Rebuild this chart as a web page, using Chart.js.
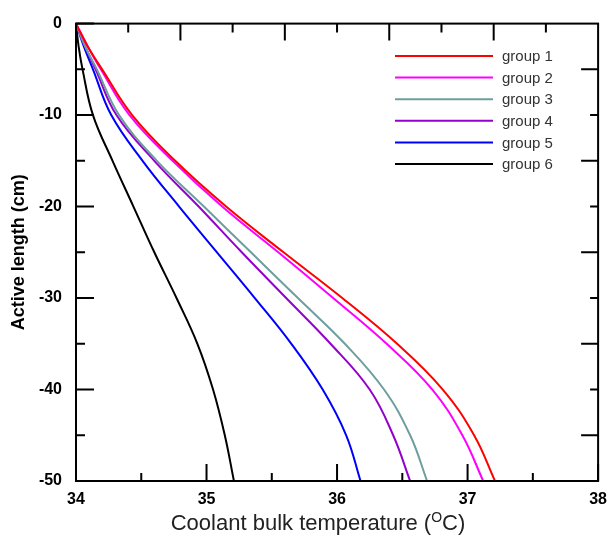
<!DOCTYPE html>
<html>
<head>
<meta charset="utf-8">
<script src="https://cdn.jsdelivr.net/npm/chart.js@4.4.1/dist/chart.umd.min.js"></script>
<style>
  html, body { margin: 0; padding: 0; background: #fff; }
  #wrap { width: 616px; height: 536px; }
</style>
</head>
<body>
<div id="wrap"><canvas id="chart" width="616" height="536"></canvas></div>
<script>
// depth along the active length (cm), shared by every group
const depths = [0, -2.5, -5, -10, -15, -20, -25, -30, -35, -40, -45, -50];

// coolant bulk temperature (°C) at each depth
const group1 = [34, 34.09, 34.20, 34.43, 34.76, 35.15, 35.59, 36.04, 36.46, 36.81, 37.05, 37.21];
const group2 = [34, 34.09, 34.19, 34.41, 34.74, 35.12, 35.55, 35.97, 36.38, 36.73, 36.96, 37.12];
const group3 = [34, 34.07, 34.16, 34.33, 34.62, 34.98, 35.34, 35.70, 36.06, 36.36, 36.56, 36.69];
const group4 = [34, 34.07, 34.15, 34.31, 34.60, 34.94, 35.27, 35.61, 35.95, 36.25, 36.43, 36.56];
const group5 = [34, 34.06, 34.13, 34.27, 34.51, 34.79, 35.08, 35.37, 35.65, 35.89, 36.07, 36.18];
const group6 = [34, 34.02, 34.05, 34.13, 34.28, 34.44, 34.60, 34.77, 34.93, 35.05, 35.14, 35.21];

const seriesNames = ['group 1', 'group 2', 'group 3', 'group 4', 'group 5', 'group 6'];
const seriesValues = [group1, group2, group3, group4, group5, group6];
const seriesColors = ['#ff0000', '#ff00ff', '#6f9e9e', '#9400cc', '#0000ff', '#000000'];

const xTicks = [34, 35, 36, 37, 38];
const yTicks = [0, -10, -20, -30, -40, -50];

const FONT = '"Liberation Sans", Arial, sans-serif';

const datasets = seriesNames.map((name, i) => ({
    label: name,
    data: seriesValues[i].map((t, k) => ({ x: t, y: depths[k] })),
    borderColor: seriesColors[i],
    backgroundColor: seriesColors[i],
    borderWidth: 2,
    pointRadius: 0,
    showLine: true,
    tension: 0.4,
    fill: false
}));

// box + inward ticks on all four sides
const frame = {
    id: 'frame',
    afterDraw(chart) {
        const { ctx, chartArea: a, scales: { x, y } } = chart;
        ctx.save();
        ctx.strokeStyle = '#000';
        ctx.lineWidth = 2;
        ctx.beginPath();
        // bottom: every 0.5, long on whole degrees
        for (let k = 0; k <= 8; k++) {
            const px = x.getPixelForValue(34 + k * 0.5);
            const len = k % 2 === 0 ? 17 : 8;
            ctx.moveTo(px, a.bottom); ctx.lineTo(px, a.bottom - len);
        }
        // top: every 0.4
        for (let k = 1; k <= 9; k++) {
            const px = x.getPixelForValue(34 + k * 0.4);
            const len = k % 2 === 0 ? 17 : 9;
            ctx.moveTo(px, a.top); ctx.lineTo(px, a.top + len);
        }
        // left: every 5, long on tens
        for (let k = 0; k <= 10; k++) {
            const py = y.getPixelForValue(-k * 5);
            const len = k % 2 === 0 ? 18 : 9;
            ctx.moveTo(a.left, py); ctx.lineTo(a.left + len, py);
        }
        // right: every 5, long on odd fives
        for (let k = 1; k <= 9; k++) {
            const py = y.getPixelForValue(-k * 5);
            const len = k % 2 === 1 ? 17 : 8;
            ctx.moveTo(a.right, py); ctx.lineTo(a.right - len, py);
        }
        ctx.stroke();
        ctx.strokeRect(a.left, a.top, a.right - a.left, a.bottom - a.top);

        // x axis title with superscript O
        ctx.fillStyle = '#222';
        ctx.textBaseline = 'alphabetic';
        const main = 'Coolant bulk temperature (';
        const sup = 'O';
        const tail = 'C)';
        const big = '22px ' + FONT, small = '14px ' + FONT;
        ctx.font = big;
        const w1 = ctx.measureText(main).width;
        const w3 = ctx.measureText(tail).width;
        ctx.font = small;
        const w2 = ctx.measureText(sup).width;
        let tx = 318 - (w1 + w2 + w3) / 2;
        const base = 530;
        ctx.font = big;
        ctx.fillText(main, tx, base);
        tx += w1;
        ctx.font = small;
        ctx.fillText(sup, tx, base - 8);
        tx += w2;
        ctx.font = big;
        ctx.fillText(tail, tx, base);
        ctx.restore();
    }
};

// legend drawn inside the plot, upper right
const insideLegend = {
    id: 'insideLegend',
    afterDraw(chart) {
        const { ctx } = chart;
        ctx.save();
        ctx.font = '15px ' + FONT;
        ctx.textBaseline = 'middle';
        chart.data.datasets.forEach((ds, i) => {
            const yy = 56 + i * 21.6;
            ctx.strokeStyle = ds.borderColor;
            ctx.lineWidth = 2;
            ctx.beginPath();
            ctx.moveTo(395, yy); ctx.lineTo(493, yy);
            ctx.stroke();
            ctx.fillStyle = '#333';
            ctx.fillText(ds.label, 502, yy + 1);
        });
        ctx.restore();
    }
};

new Chart(document.getElementById('chart'), {
    type: 'scatter',
    data: { datasets },
    options: {
        responsive: false,
        animation: false,
        devicePixelRatio: 1,
        layout: { padding: { top: 15, right: 12, left: 0, bottom: 0 } },
        plugins: { legend: { display: false }, tooltip: { enabled: false } },
        scales: {
            x: {
                type: 'linear',
                min: 34, max: 38,
                afterFit: s => { s.height = 55; },
                afterBuildTicks: s => { s.ticks = xTicks.map(v => ({ value: v })); },
                grid: { display: false, drawTicks: false },
                border: { display: false },
                ticks: {
                    padding: 9,
                    color: '#000',
                    font: { family: FONT, size: 16, weight: 'bold' }
                }
            },
            y: {
                type: 'linear',
                min: -50, max: 0,
                afterFit: s => { s.width = 76; },
                afterBuildTicks: s => { s.ticks = yTicks.map(v => ({ value: v })); },
                grid: { display: false, drawTicks: false },
                border: { display: false },
                ticks: {
                    padding: 14,
                    color: '#000',
                    font: { family: FONT, size: 16, weight: 'bold' }
                },
                title: {
                    display: true,
                    text: 'Active length (cm)',
                    color: '#000',
                    padding: { top: 8, bottom: 0 },
                    font: { family: FONT, size: 18, weight: 'bold' }
                }
            }
        }
    },
    plugins: [frame, insideLegend]
});
</script>
</body>
</html>
